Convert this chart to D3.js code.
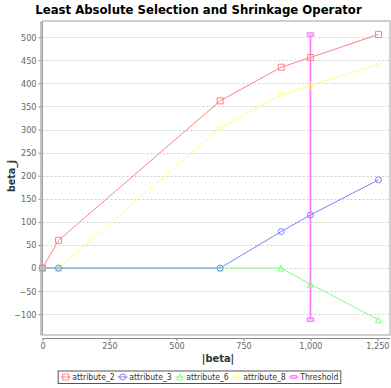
<!DOCTYPE html>
<html>
<head>
<meta charset="utf-8">
<script src="https://cdn.jsdelivr.net/npm/d3@7/dist/d3.min.js"></script>
<style>
  html, body { margin: 0; padding: 0; background: #fff; }
  svg { display: block; }
  text { font-family: "DejaVu Sans Condensed", "DejaVu Sans", sans-serif; }
</style>
</head>
<body>
<svg id="chart" width="391" height="388"></svg>
<script>
// LASSO coefficient paths against |beta|
const absBeta = [0, 60, 663, 891, 1000, 1254];
const seriesNames = ["attribute_2", "attribute_3", "attribute_6", "attribute_8", "Threshold"];
const attribute2 = [0, 60, 362, 435, 456, 506];
const attribute3 = [0, 0, 0, 79, 115, 191];
const attribute6 = [0, 0, 0, 0, -35, -112];
const attribute8 = [0, 0, 303, 375, 395, 441];
const thresholdX = [1000, 1000];
const thresholdY = [-112, 506];
const xTicks = [0, 250, 500, 750, 1000, 1250];
const yTicks = [-100, -50, 0, 50, 100, 150, 200, 250, 300, 350, 400, 450, 500];
const colors = ["#ff8080", "#8080ff", "#80ff80", "#ffff80", "#ff80ff"];
const shapes = ["square", "circle", "triangle", "diamond", "hrect"];

const svg = d3.select("#chart");
const plot = { left: 42.5, top: 21, right: 390, bottom: 335 };

const x = d3.scaleLinear().domain([0, 1297]).range([plot.left, plot.right]);
const y = d3.scaleLinear().domain([-145, 535]).range([plot.bottom, plot.top]);

// title
svg.append("text")
  .attr("x", 198.5).attr("y", 13.5)
  .attr("text-anchor", "middle")
  .style("font-size", "13px").style("font-weight", "bold").style("fill", "#000")
  .text("Least Absolute Selection and Shrinkage Operator");

// plot background and horizontal grid
svg.append("rect")
  .attr("x", plot.left).attr("y", plot.top)
  .attr("width", plot.right - plot.left).attr("height", plot.bottom - plot.top)
  .attr("fill", "#fff");

svg.append("g").selectAll("line").data(yTicks).join("line")
  .attr("x1", plot.left).attr("x2", plot.right)
  .attr("y1", d => Math.round(y(d)) + 0.5).attr("y2", d => Math.round(y(d)) + 0.5)
  .attr("stroke", "#cfcfcf").attr("stroke-dasharray", "2,2").attr("stroke-width", 1);

svg.append("rect")
  .attr("x", plot.left).attr("y", plot.top)
  .attr("width", plot.right - plot.left).attr("height", plot.bottom - plot.top)
  .attr("fill", "none").attr("stroke", "#a0a0a0").attr("stroke-width", 1);

// axes
const xAxis = svg.append("g")
  .attr("transform", `translate(0,${plot.bottom + 3})`)
  .call(d3.axisBottom(x).tickValues(xTicks).tickFormat(d3.format(",")).tickSize(3).tickSizeOuter(0).tickPadding(2));
const yAxis = svg.append("g")
  .attr("transform", `translate(${plot.left - 2},0)`)
  .call(d3.axisLeft(y).tickValues(yTicks).tickSize(2).tickSizeOuter(0).tickPadding(2));

[xAxis, yAxis].forEach(g => {
  g.select(".domain").attr("stroke", "#888");
  g.selectAll(".tick line").attr("stroke", "#888");
  g.selectAll(".tick text").style("font-size", "9px").style("font-family", "\"DejaVu Sans Condensed\", \"DejaVu Sans\", sans-serif").attr("fill", "#666");
});
xAxis.select(".domain").attr("d", `M${plot.left},0.5H${plot.right}`);

// axis titles
svg.append("text")
  .attr("x", 218).attr("y", 362)
  .attr("text-anchor", "middle")
  .style("font-size", "11px").style("font-weight", "bold").style("fill", "#333")
  .text("|beta|");
svg.append("text")
  .attr("transform", "translate(15,176) rotate(-90)")
  .attr("text-anchor", "middle")
  .style("font-size", "10.5px").style("font-weight", "bold").style("fill", "#333")
  .text("beta_j");

// series
const series = [
  { name: seriesNames[0], xs: absBeta, ys: attribute2 },
  { name: seriesNames[1], xs: absBeta, ys: attribute3 },
  { name: seriesNames[2], xs: absBeta, ys: attribute6 },
  { name: seriesNames[3], xs: absBeta, ys: attribute8 },
  { name: seriesNames[4], xs: thresholdX, ys: thresholdY }
].map((s, i) => ({ ...s, color: colors[i], shape: shapes[i], width: i === 4 ? 1.8 : 1,
  points: s.xs.map((v, j) => [v, s.ys[j]]) }));

function shapePath(kind) {
  switch (kind) {
    case "square": return "M-3,-3H3V3H-3Z";
    case "circle": return "M-3,0A3,3 0 1,0 3,0A3,3 0 1,0 -3,0Z";
    case "triangle": return "M0,-3L3,3H-3Z";
    case "diamond": return "M0,-3L3,0L0,3L-3,0Z";
    case "hrect": return "M-3,-1.5H3V1.5H-3Z";
  }
}

const line = d3.line().x(d => x(d[0])).y(d => y(d[1]));
const drawOrder = series.slice().reverse();

const linesG = svg.append("g");
drawOrder.forEach(s => {
  linesG.append("path").attr("d", line(s.points))
    .attr("fill", "none").attr("stroke", s.color).attr("stroke-width", s.width);
});
const shapesG = svg.append("g");
drawOrder.forEach(s => {
  shapesG.selectAll(null).data(s.points).join("path")
    .attr("transform", d => `translate(${x(d[0])},${y(d[1])})`)
    .attr("d", shapePath(s.shape))
    .attr("fill", "none").attr("stroke", s.color).attr("stroke-width", s.width > 1 ? 1.5 : 1);
});

// legend
const legend = svg.append("g");
const items = legend.selectAll("g").data(series).join("g");
items.append("line").attr("x1", 0).attr("x2", 10).attr("y1", 0).attr("y2", 0)
  .attr("stroke", d => d.color);
items.append("path").attr("transform", "translate(5,0)")
  .attr("d", d => shapePath(d.shape)).attr("fill", "none").attr("stroke", d => d.color);
items.append("text").attr("x", 11.5).attr("y", 3.1)
  .style("font-size", "8.6px").style("fill", "#333")
  .text(d => d.name);

let cursor = 0;
items.each(function () {
  const g = d3.select(this);
  const w = 11.5 + g.select("text").node().getComputedTextLength();
  g.attr("transform", `translate(${cursor},0)`);
  cursor += w + 3;
});
const totalW = cursor - 3;
const legendX = 199.5 - totalW / 2;
const legendY = 377;
legend.attr("transform", `translate(${legendX},${legendY})`);
legend.insert("rect", ":first-child")
  .attr("x", -2.5).attr("y", -6).attr("width", totalW + 5).attr("height", 12.5)
  .attr("fill", "#fff").attr("stroke", "#555").attr("stroke-width", 1);
</script>
</body>
</html>
